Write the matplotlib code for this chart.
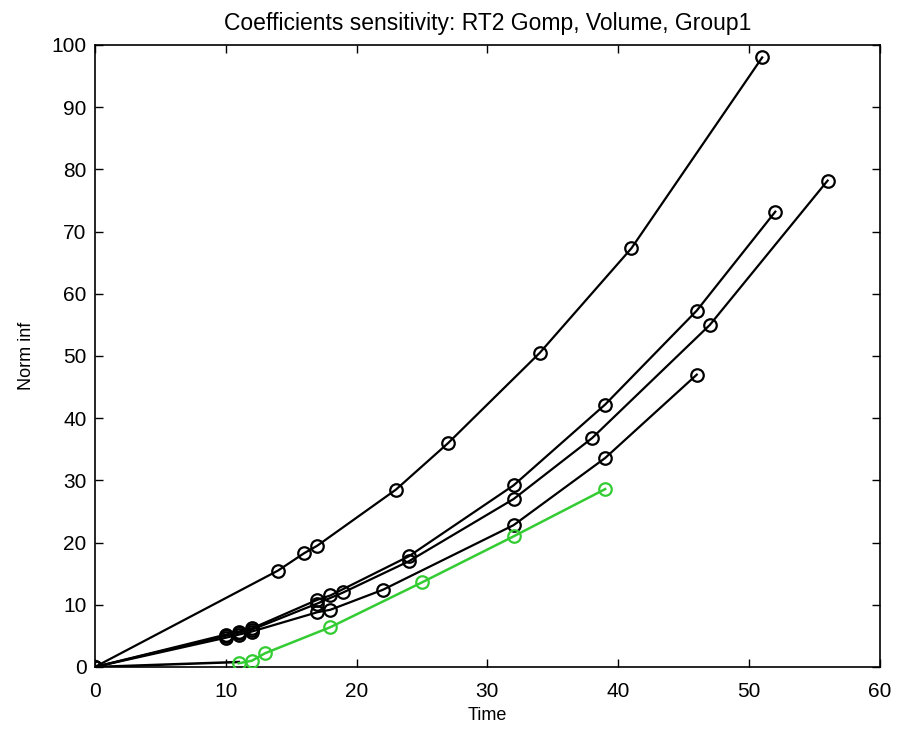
import matplotlib
matplotlib.use("Agg")
import matplotlib.pyplot as plt

# Norm inf vs time, one list pair per coefficient run
t_a = [0, 14, 16, 17, 23, 27, 34, 41, 51]
n_a = [0, 15.5, 18.3, 19.5, 28.5, 36, 50.5, 67.3, 98]

t_b = [0, 10, 11, 12, 17, 18, 24, 32, 39, 46, 52]
n_b = [0, 5.2, 5.7, 6.2, 10.8, 11.5, 17.8, 29.2, 42.2, 57.3, 73.2]

t_c = [0, 10, 11, 12, 17, 19, 24, 32, 38, 47, 56]
n_c = [0, 5.0, 5.5, 6.0, 10.2, 12.0, 17.0, 27.0, 36.8, 55.0, 78.2]

t_d = [0, 10, 11, 12, 17, 18, 22, 32, 39, 46]
n_d = [0, 4.7, 5.2, 5.7, 8.8, 9.2, 12.4, 22.8, 33.6, 47.0]

t_e = [0, 11]
n_e = [0, 0.8]

t_green = [11, 12, 13, 18, 25, 32, 39]
n_green = [0.6, 1.0, 2.2, 6.4, 13.6, 21.0, 28.6]

plt.rcParams['font.family'] = ['Liberation Sans Narrow', 'Liberation Sans', 'DejaVu Sans']

fig = plt.figure(figsize=(9.03, 7.34), dpi=100)
ax = fig.add_axes([0.105, 0.0913, 0.8695, 0.8474])

mk = dict(marker='o', markersize=9, markerfacecolor='none', markeredgewidth=1.6)
ax.plot(t_e, n_e, color='black', linewidth=1.8, zorder=3)
for t, n in [(t_d, n_d), (t_c, n_c), (t_b, n_b), (t_a, n_a)]:
    ax.plot(t, n, color='black', linewidth=1.6, markeredgecolor='black', zorder=3, **mk)
ax.plot(t_green, n_green, color='#33cc33', linewidth=1.8, markeredgecolor='#33cc33', zorder=4, **mk)

ax.set_xlim(0, 60)
ax.set_ylim(0, 100)
ax.set_xticks(range(0, 61, 10))
ax.set_yticks(range(0, 101, 10))
ax.tick_params(direction='in', top=True, right=True, length=6, width=1, labelsize=15)
ax.tick_params(axis='x', pad=11)
ax.tick_params(axis='y', pad=6)
for s in ax.spines.values():
    s.set_linewidth(1.2)

ax.set_xlabel('Time', fontsize=13, labelpad=4)
ax.set_ylabel('Norm inf', fontsize=13, labelpad=12)
ax.set_title('Coefficients sensitivity: RT2 Gomp, Volume, Group1', fontsize=16.5, pad=11)

fig.savefig('out.png', dpi=100)
